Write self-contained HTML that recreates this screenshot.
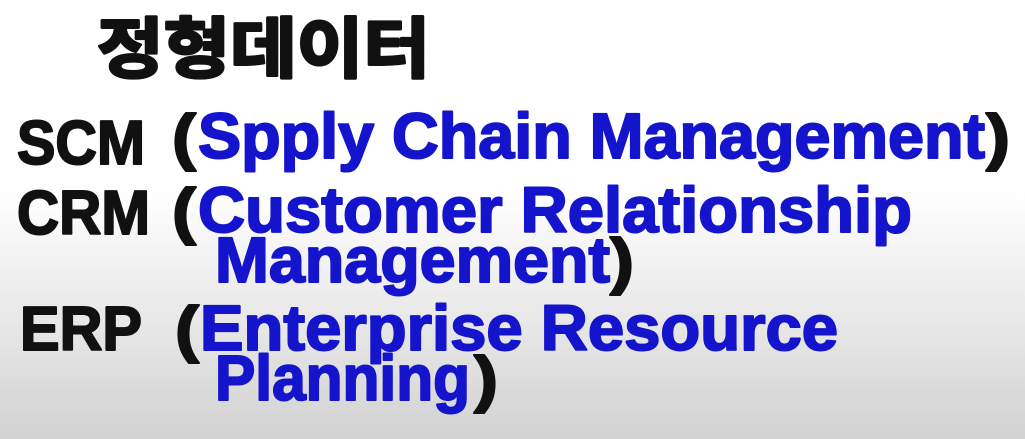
<!DOCTYPE html>
<html><head><meta charset="utf-8"><style>
html,body{margin:0;padding:0;}
body{width:1025px;height:439px;overflow:hidden;background:linear-gradient(to bottom,#ffffff 0px,#ffffff 190px,#e6e6e6 330px,#d2d2d2 439px);}
svg{position:absolute;left:0;top:0;}
text{font-family:"Liberation Sans","Noto Sans CJK KR",sans-serif;font-weight:bold;stroke-width:2px;stroke-linejoin:round;}
.k{fill:#111;stroke:#111;}
.b{fill:#1414cc;stroke:#1414cc;}
.t{stroke-width:3px;}
</style></head><body>
<svg width="1025" height="439" viewBox="0 0 1025 439">
<text class="k t" x="97" y="72" font-size="66" textLength="333" lengthAdjust="spacingAndGlyphs">정형데이터</text>

<text class="k" x="17" y="164" font-size="62" textLength="128" lengthAdjust="spacingAndGlyphs">SCM</text>
<text class="k" x="172" y="158" font-size="62" textLength="24" lengthAdjust="spacingAndGlyphs">(</text>
<text class="b" x="198" y="158" font-size="64" textLength="787" lengthAdjust="spacingAndGlyphs">Spply Chain Management</text>
<text class="k" x="986" y="158" font-size="62" textLength="24" lengthAdjust="spacingAndGlyphs">)</text>

<text class="k" x="17" y="234" font-size="62" textLength="133" lengthAdjust="spacingAndGlyphs">CRM</text>
<text class="k" x="172" y="232" font-size="62" textLength="24" lengthAdjust="spacingAndGlyphs">(</text>
<text class="b" x="198" y="232" font-size="64" textLength="714" lengthAdjust="spacingAndGlyphs">Customer Relationship</text>
<text class="b" x="215" y="282" font-size="64" textLength="395" lengthAdjust="spacingAndGlyphs">Management</text>
<text class="k" x="610" y="282" font-size="62" textLength="24" lengthAdjust="spacingAndGlyphs">)</text>

<text class="k" x="20" y="350" font-size="62" textLength="122" lengthAdjust="spacingAndGlyphs">ERP</text>
<text class="k" x="175" y="350" font-size="62" textLength="24" lengthAdjust="spacingAndGlyphs">(</text>
<text class="b" x="200" y="350" font-size="64" textLength="638" lengthAdjust="spacingAndGlyphs">Enterprise Resource</text>
<text class="b" x="215" y="400" font-size="64" textLength="255" lengthAdjust="spacingAndGlyphs">Planning</text>
<text class="k" x="474" y="400" font-size="62" textLength="24" lengthAdjust="spacingAndGlyphs">)</text>
</svg>
</body></html>
